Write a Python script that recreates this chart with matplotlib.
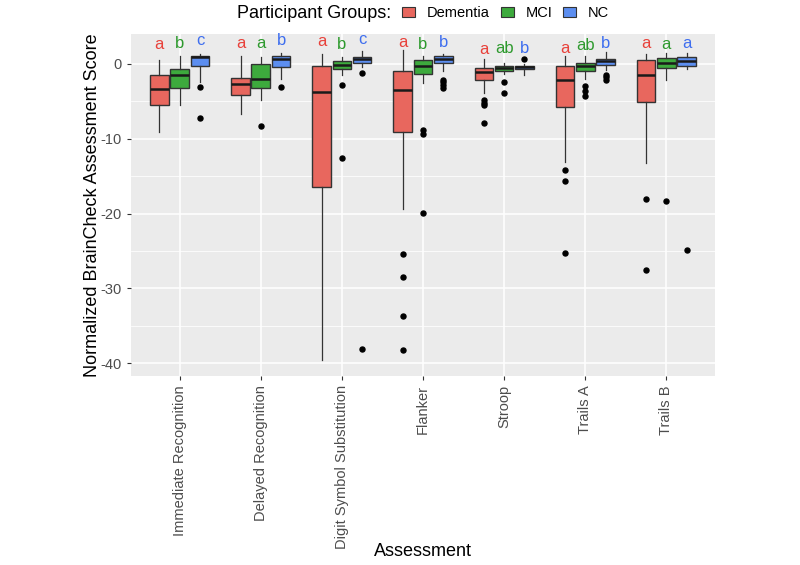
#!/usr/bin/env python3
import numpy as np
import matplotlib
matplotlib.use('Agg')

import matplotlib.pyplot as plt
from matplotlib.patches import Patch

plt.rcParams['font.family'] = ['Liberation Sans', 'DejaVu Sans']
plt.rcParams['axes.unicode_minus'] = False

# Assessments on the x axis
assessments = ["Immediate Recognition", "Delayed Recognition", "Digit Symbol Substitution",
               "Flanker", "Stroop", "Trails A", "Trails B"]
groups = ["Dementia", "MCI", "NC"]

# box summaries (per assessment)
dem_whishi = [0.54, 1.11, 1.38, 1.87, 0.67, 1.11, 1.38]
dem_q3 = [-1.47, -1.83, -0.23, -0.89, -0.58, -0.31, 0.49]
dem_med = [-3.3, -2.63, -3.75, -3.43, -1.03, -2.14, -1.47]
dem_q1 = [-5.5, -4.15, -16.5, -9.15, -2.19, -5.76, -5.05]
dem_whislo = [-9.06, -6.65, -39.6, -19.4, -3.93, -13.1, -13.2]
dem_out = [[], [], [], [-25.4, -28.5, -33.7, -38.2], [-4.86, -5.22, -5.53, -7.9],
           [-14.2, -15.6, -25.2], [-18.0, -27.5]]

mci_whishi = [1.07, 0.98, 0.89, 1.07, 0.18, 1.11, 1.47]
mci_q3 = [-0.62, -0.04, 0.4, 0.58, -0.31, 0.18, 0.8]
mci_med = [-1.52, -2.0, -0.09, -0.23, -0.58, -0.31, 0.18]
mci_q1 = [-3.2, -3.2, -0.62, -1.34, -0.98, -0.94, -0.49]
mci_whislo = [-5.5, -4.86, -1.47, -2.59, -1.38, -2.05, -2.1]
mci_out = [[], [-8.35], [-2.81, -12.6], [-8.88, -9.33, -19.9], [-2.45, -3.93],
           [-2.95, -3.6, -4.24], [-18.3]]

nc_whishi = [1.38, 1.51, 1.78, 1.29, 0.04, 1.56, 1.47]
nc_q3 = [1.1, 1.03, 0.98, 1.03, -0.23, 0.71, 0.89]
nc_med = [0.89, 0.67, 0.62, 0.62, -0.44, 0.36, 0.36]
nc_q1 = [-0.27, -0.44, 0.18, 0.09, -0.71, -0.13, -0.27]
nc_whislo = [-2.36, -2.0, -0.4, -0.94, -1.47, -0.8, -0.67]
nc_out = [[-3.08, -7.23], [-3.08], [-1.16, -38.1], [-2.14, -2.45, -2.85, -3.25], [0.62],
          [-1.47, -1.78, -2.19], [-24.9]]

# significance letters and their heights
dem_letters = ["a", "a", "a", "a", "a", "a", "a"]
mci_letters = ["b", "a", "b", "b", "ab", "ab", "a"]
nc_letters = ["c", "b", "c", "b", "b", "b", "a"]
dem_label_y = [2.54, 2.77, 2.99, 2.9, 1.96, 2.1, 2.77]
mci_label_y = [2.77, 2.77, 2.63, 2.54, 2.1, 2.45, 2.63]
nc_label_y = [3.08, 3.12, 3.3, 2.86, 2.1, 2.77, 2.77]


def main():
    fills = ["#E8675E", "#3DAA3D", "#5C8EF0"]
    text_cols = ["#E8413A", "#2E9A2E", "#3E6EEF"]
    offsets = [-0.25, 0.0, 0.25]

    series = [
        (dem_whislo, dem_q1, dem_med, dem_q3, dem_whishi, dem_out, dem_letters, dem_label_y),
        (mci_whislo, mci_q1, mci_med, mci_q3, mci_whishi, mci_out, mci_letters, mci_label_y),
        (nc_whislo, nc_q1, nc_med, nc_q3, nc_whishi, nc_out, nc_letters, nc_label_y),
    ]

    fig = plt.figure(figsize=(8, 5.65), dpi=100)
    ax = fig.add_axes([131 / 800, 1 - 376 / 565, 584 / 800, 342 / 565])
    ax.set_facecolor("#EBEBEB")
    for s in ax.spines.values():
        s.set_visible(False)

    ind = np.arange(1, len(assessments) + 1)
    for g, (lo, q1, med, q3, hi, out, letters, ly) in enumerate(series):
        stats = []
        for i in range(len(assessments)):
            stats.append(dict(whislo=lo[i], q1=q1[i], med=med[i], q3=q3[i],
                              whishi=hi[i], fliers=out[i]))
        ax.bxp(stats, positions=ind + offsets[g], widths=0.23, patch_artist=True,
               showcaps=False, manage_ticks=False,
               boxprops=dict(facecolor=fills[g], edgecolor="#333333", linewidth=1.0),
               whiskerprops=dict(color="#333333", linewidth=0.9),
               medianprops=dict(color="#1a1a1a", linewidth=1.8),
               flierprops=dict(marker="o", markerfacecolor="black", markeredgecolor="black",
                               markersize=3.6))
        for i in range(len(assessments)):
            ax.text(ind[i] + offsets[g], ly[i], letters[i], color=text_cols[g],
                    fontsize=12, ha="center", va="center")

    ax.set_xlim(0.4, len(assessments) + 0.6)
    ax.set_ylim(-41.7, 4.0)
    ax.set_xticks(ind)
    ax.set_xticklabels(assessments, rotation=90, fontsize=10.5, color="#4D4D4D")
    ax.set_yticks(np.arange(-40, 1, 10))
    ax.set_yticks(np.arange(-35, 1, 10), minor=True)
    ax.tick_params(axis="y", labelsize=10.5, labelcolor="#4D4D4D")
    ax.tick_params(which="major", color="#333333", length=3, width=0.8)
    ax.tick_params(which="minor", length=0)
    ax.grid(which="major", color="white", linewidth=1.1)
    ax.grid(which="minor", axis="y", color="white", linewidth=0.55)
    ax.set_axisbelow(True)

    ax.set_ylabel("Normalized BrainCheck Assessment Score", fontsize=13)
    ax.yaxis.set_label_coords(-0.051, 0.5)
    fig.text((131 + 715) / 2 / 800, 1 - 552 / 565, "Assessment", fontsize=13,
             ha="center", va="center")

    # legend on top
    fig.text(237 / 800, 1 - 13 / 565, "Participant Groups:", fontsize=13,
             ha="left", va="center")
    handles = [Patch(facecolor=fills[g], edgecolor="#333333", linewidth=0.8) for g in range(3)]
    fig.legend(handles, groups, loc="center left", bbox_to_anchor=(402 / 800, 1 - 13 / 565),
               ncol=3, frameon=False, fontsize=10.5, handlelength=0.9, handleheight=0.7,
               handletextpad=0.8, columnspacing=0.75, borderpad=0, borderaxespad=0)

    plt.savefig("out.png", dpi=100)


if __name__ == "__main__":
    main()
